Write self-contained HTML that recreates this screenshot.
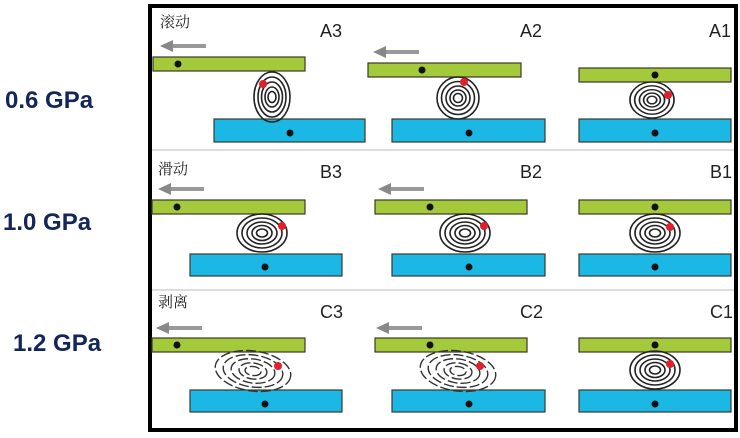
<!DOCTYPE html>
<html><head><meta charset="utf-8"><style>
html,body{margin:0;padding:0;background:#fff;width:740px;height:438px;overflow:hidden}
svg{display:block}
.g{font-family:"Liberation Sans",sans-serif;font-weight:bold;font-size:24px;fill:#13265a}
.l{font-family:"Liberation Sans",sans-serif;font-size:18px;fill:#222}
.c{font-family:"Liberation Serif","Noto Serif CJK SC",serif;font-size:15px;fill:#222}
</style></head><body>
<svg width="740" height="438" viewBox="0 0 740 438" xmlns="http://www.w3.org/2000/svg">
<defs>
<g id="coilA" fill="none" stroke="#222" stroke-width="1.6">
<ellipse rx="18" ry="25"/><ellipse rx="14" ry="20"/><ellipse rx="10.5" ry="15"/><ellipse rx="7" ry="10"/><ellipse rx="4" ry="5.5"/>
</g>
<g id="coilR" fill="none" stroke="#222" stroke-width="1.6">
<ellipse rx="21" ry="21"/><ellipse rx="16.5" ry="16.5"/><ellipse rx="12" ry="12"/><ellipse rx="8" ry="8"/><ellipse rx="4.5" ry="4.5"/>
</g>
<g id="coilB" fill="none" stroke="#222" stroke-width="1.6">
<ellipse rx="25" ry="19"/><ellipse rx="20" ry="15"/><ellipse rx="15" ry="11"/><ellipse rx="10" ry="7.5"/><ellipse rx="5.5" ry="4"/>
</g>
<g id="coilC" fill="none" stroke="#333" stroke-width="1.4" stroke-dasharray="10 3">
<ellipse rx="38" ry="20" transform="rotate(8)"/><ellipse rx="30" ry="16" transform="rotate(8)"/><ellipse rx="22" ry="12" transform="rotate(8)"/><ellipse rx="14" ry="8" transform="rotate(8)"/><ellipse rx="8" ry="4.5" transform="rotate(8)"/>
</g>
<g id="arr"><rect x="10" y="-2" width="36" height="4" fill="#999"/><polygon points="0,0 13,-6 13,6" fill="#888"/></g>
</defs>
<text class="g" x="5" y="108">0.6 GPa</text>
<text class="g" x="3" y="230">1.0 GPa</text>
<text class="g" x="13" y="351">1.2 GPa</text>
<rect x="150" y="6" width="586" height="424" fill="#fff" stroke="#000" stroke-width="4"/>
<line x1="152" y1="150" x2="734" y2="150" stroke="#ddd" stroke-width="2"/>
<line x1="152" y1="290" x2="734" y2="290" stroke="#ddd" stroke-width="2"/>
<g stroke="#3a3a2a" stroke-width="1.2">
<rect x="153" y="57" width="152" height="14" fill="#a4c93a"/>
<rect x="214" y="119" width="151" height="23" fill="#1bb8e6"/>
<rect x="368" y="63" width="153" height="14" fill="#a4c93a"/>
<rect x="392" y="119" width="153" height="23" fill="#1bb8e6"/>
<rect x="579" y="68" width="152" height="14" fill="#a4c93a"/>
<rect x="579" y="119" width="152" height="23" fill="#1bb8e6"/>
<rect x="152" y="200" width="153" height="14" fill="#a4c93a"/>
<rect x="190" y="254" width="152" height="22" fill="#1bb8e6"/>
<rect x="375" y="200" width="152" height="14" fill="#a4c93a"/>
<rect x="392" y="254" width="153" height="22" fill="#1bb8e6"/>
<rect x="579" y="200" width="152" height="14" fill="#a4c93a"/>
<rect x="579" y="254" width="152" height="22" fill="#1bb8e6"/>
<rect x="152" y="338" width="153" height="14" fill="#a4c93a"/>
<rect x="190" y="390" width="152" height="22" fill="#1bb8e6"/>
<rect x="375" y="338" width="152" height="14" fill="#a4c93a"/>
<rect x="392" y="390" width="153" height="22" fill="#1bb8e6"/>
<rect x="579" y="338" width="152" height="14" fill="#a4c93a"/>
<rect x="579" y="390" width="152" height="22" fill="#1bb8e6"/>
</g>
<g fill="#111">
<circle cx="178" cy="64" r="3.5"/><circle cx="290" cy="133" r="3.5"/>
<circle cx="422" cy="70" r="3.5"/><circle cx="469" cy="133" r="3.5"/>
<circle cx="655" cy="75" r="3.5"/><circle cx="655" cy="133" r="3.5"/>
<circle cx="177" cy="207" r="3.5"/><circle cx="265" cy="267" r="3.5"/>
<circle cx="430" cy="207" r="3.5"/><circle cx="469" cy="267" r="3.5"/>
<circle cx="655" cy="207" r="3.5"/><circle cx="655" cy="267" r="3.5"/>
<circle cx="177" cy="345" r="3.5"/><circle cx="265" cy="404" r="3.5"/>
<circle cx="430" cy="345" r="3.5"/><circle cx="469" cy="404" r="3.5"/>
<circle cx="655" cy="345" r="3.5"/><circle cx="655" cy="404" r="3.5"/>
</g>
<use href="#coilA" x="272" y="97"/>
<use href="#coilR" x="458" y="98"/>
<g transform="translate(652 100) scale(1.05 0.86)"><use href="#coilR"/></g>
<use href="#coilB" x="262" y="233"/>
<use href="#coilB" x="465" y="233"/>
<use href="#coilB" x="655" y="233"/>
<use href="#coilC" x="253" y="371"/>
<use href="#coilC" x="458" y="371"/>
<use href="#coilB" x="655" y="370"/>
<g fill="#e0202a">
<circle cx="263" cy="84" r="4"/><circle cx="464" cy="82" r="4"/><circle cx="668" cy="95" r="4"/>
<circle cx="282" cy="226" r="4"/><circle cx="484" cy="226" r="4"/><circle cx="670" cy="227" r="4"/>
<circle cx="278" cy="366" r="4"/><circle cx="480" cy="366" r="4"/><circle cx="670" cy="364" r="4"/>
</g>
<use href="#arr" x="160" y="46"/>
<use href="#arr" x="373" y="52"/>
<use href="#arr" x="158" y="189"/>
<use href="#arr" x="378" y="189"/>
<use href="#arr" x="156" y="328"/>
<use href="#arr" x="376" y="328"/>
<text class="c" x="160" y="27">滚动</text>
<text class="c" x="158" y="174">滑动</text>
<text class="c" x="158" y="307">剥离</text>
<text class="l" x="320" y="37">A3</text>
<text class="l" x="520" y="37">A2</text>
<text class="l" x="709" y="37">A1</text>
<text class="l" x="320" y="178">B3</text>
<text class="l" x="520" y="178">B2</text>
<text class="l" x="710" y="178">B1</text>
<text class="l" x="320" y="318">C3</text>
<text class="l" x="520" y="318">C2</text>
<text class="l" x="710" y="318">C1</text>
</svg>
</body></html>
